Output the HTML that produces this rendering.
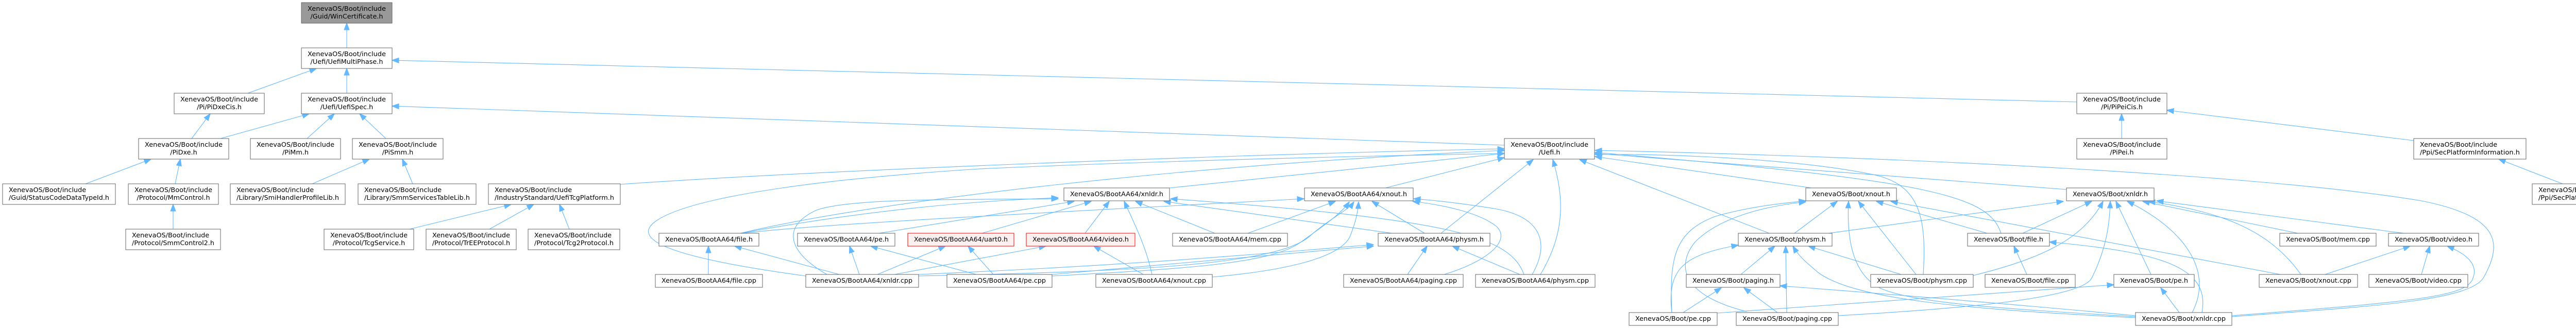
<!DOCTYPE html>
<html><head><meta charset="utf-8"><style>
html,body{margin:0;padding:0;background:#fff;}
svg{display:block;}
.ed path{fill:none;stroke:#63b8ff;stroke-width:1.1;marker-end:url(#ah);}
.nd rect{fill:#fff;stroke:#666;stroke-width:1;}
.nd rect.root{fill:#999;}
.nd rect.red{fill:#fff0f0;stroke:#ff0000;}
.nd text{font-family:"DejaVu Sans","Liberation Sans",sans-serif;font-size:12.8px;fill:#000;}
.nd text.c{text-anchor:middle;}
</style></head><body>
<svg xmlns="http://www.w3.org/2000/svg" width="5146" height="637" viewBox="0 0 5146 637">
<defs><marker id="ah" viewBox="0 0 14 11" refX="13.5" refY="5.5" markerWidth="14" markerHeight="11" markerUnits="userSpaceOnUse" orient="auto"><path d="M0,0.3 L14,5.5 L0,10.7 Z" fill="#63b8ff" stroke="#63b8ff" stroke-width="1"/></marker></defs>
<rect x="0" y="0" width="5146" height="637" fill="#fff"/>
<g class="ed">
<path d="M673,93 L673,45"/>
<path d="M481,181 L614,133"/>
<path d="M673,181 L673,133"/>
<path d="M4031,198 L761,117"/>
<path d="M372,269 L408,221"/>
<path d="M428,269 L600,221"/>
<path d="M596,269 L649,221"/>
<path d="M749,269 L698,221"/>
<path d="M2920,282 L761,206"/>
<path d="M166,357 L293,309"/>
<path d="M340,357 L350,309"/>
<path d="M336,445 L336,397"/>
<path d="M606,357 L717,309"/>
<path d="M801,357 L781,309"/>
<path d="M795,445 L992,397"/>
<path d="M950,445 L1036,397"/>
<path d="M1105,445 L1086,397"/>
<path d="M1204,358 C1600,330 2400,300 2920,289"/>
<path d="M4118,269 L4118,221"/>
<path d="M4685,273 L4206,214"/>
<path d="M4974,357 L4850,309"/>
<path d="M1375,533 L1375,478"/>
<path d="M1629,533 L1426,478"/>
<path d="M1668,533 L1649,478"/>
<path d="M1895,533 L1690,478"/>
<path d="M1703,533 L1835,478"/>
<path d="M1928,533 L1879,478"/>
<path d="M1736,533 L2030,478"/>
<path d="M2219,533 L2123,478"/>
<path d="M1564,536 C1300,500 1220,465 1275,428 C1340,385 1560,350 1900,328 C2300,310 2700,302 2920,298"/>
<path d="M1605,533 C1530,490 1515,440 1585,408 C1650,385 1850,388 2054,386"/>
<path d="M1437,453 C1700,390 2300,320 2920,292"/>
<path d="M1437,453 C1700,405 1900,390 2054,384"/>
<path d="M1440,453 C1600,435 1900,420 2531,386"/>
<path d="M1706,453 L2085,391"/>
<path d="M1906,453 L2118,391"/>
<path d="M2106,453 L2153,391"/>
<path d="M2236,533 C2225,480 2200,430 2182,391"/>
<path d="M2358,453 L2204,391"/>
<path d="M2702,453 L2259,391"/>
<path d="M2958,533 C2930,455 2800,425 2272,386"/>
<path d="M2270,365 L2920,298"/>
<path d="M2689,365 L2920,306"/>
<path d="M2422,453 L2592,391"/>
<path d="M2042,536 C2300,522 2470,512 2525,470 C2570,438 2603,415 2619,392"/>
<path d="M1783,536 C2200,527 2480,515 2543,458 C2580,425 2615,410 2628,392"/>
<path d="M2353,538 C2500,525 2600,500 2620,460 C2632,430 2636,410 2637,392"/>
<path d="M2765,453 L2663,391"/>
<path d="M2803,533 C2880,510 2935,470 2905,440 C2870,412 2800,398 2742,391"/>
<path d="M2974,533 C3010,470 2990,420 2900,405 C2850,397 2800,390 2744,386"/>
<path d="M2950,533 L2819,478"/>
<path d="M2732,533 L2770,478"/>
<path d="M2042,533 C2300,510 2500,494 2666,478"/>
<path d="M1783,533 C2200,515 2450,493 2666,475"/>
<path d="M2797,453 L2976,310"/>
<path d="M2990,533 C3040,450 3035,380 3014,310"/>
<path d="M3516,365 L3096,304"/>
<path d="M3434,453 L3066,310"/>
<path d="M4011,368 L3096,298"/>
<path d="M3884,453 C3860,380 3750,350 3096,296"/>
<path d="M4332,615 C4600,595 4790,585 4820,540 C4860,470 4850,420 4700,390 C4400,340 3700,305 3096,292"/>
<path d="M3733,533 C3740,420 3725,360 3640,340 C3500,310 3250,298 3096,300"/>
<path d="M3245,607 C3240,500 3250,450 3330,420 C3400,400 3460,395 3505,390"/>
<path d="M3390,605 C3270,575 3250,520 3290,470 C3340,420 3430,400 3505,392"/>
<path d="M3483,453 L3566,391"/>
<path d="M4145,615 C3900,600 3720,590 3650,560 C3590,530 3585,450 3588,391"/>
<path d="M3719,533 L3607,391"/>
<path d="M4426,533 L3670,391"/>
<path d="M3857,453 L3642,391"/>
<path d="M3549,453 L4005,391"/>
<path d="M3926,453 L4060,391"/>
<path d="M3830,535 C3950,505 4040,470 4082,391"/>
<path d="M3568,613 C3800,600 4040,580 4060,540 C4090,480 4095,430 4096,391"/>
<path d="M4175,533 L4107,391"/>
<path d="M4255,607 C4300,520 4230,440 4129,391"/>
<path d="M4460,453 L4159,391"/>
<path d="M4466,533 C4400,440 4300,410 4170,391"/>
<path d="M4666,453 L4186,390"/>
<path d="M3934,533 L3909,478"/>
<path d="M4274,607 C4290,520 4200,490 3978,470"/>
<path d="M3333,608 L4103,553"/>
<path d="M4230,607 L4194,559"/>
<path d="M4513,533 L4678,478"/>
<path d="M4700,533 L4716,478"/>
<path d="M4332,613 C4700,585 4790,575 4800,540 C4812,510 4780,490 4750,478"/>
<path d="M3379,533 L3445,478"/>
<path d="M3468,607 L3466,478"/>
<path d="M3245,607 C3235,520 3270,495 3374,476"/>
<path d="M4145,617 C3800,600 3600,580 3530,530 C3500,505 3490,495 3480,478"/>
<path d="M3690,533 L3510,478"/>
<path d="M3267,607 L3341,559"/>
<path d="M3450,607 L3385,559"/>
<path d="M4145,613 C3900,590 3650,570 3455,555"/>
</g>
<g class="nd">
<rect class="root" x="585" y="5" width="176" height="40"/>
<text x="597" y="21" textLength="152" lengthAdjust="spacingAndGlyphs">XenevaOS/Boot/include</text>
<text class="c" x="673" y="36">/Guid/WinCertificate.h</text>

<rect x="585" y="93" width="176" height="40"/>
<text x="597" y="109" textLength="152" lengthAdjust="spacingAndGlyphs">XenevaOS/Boot/include</text>
<text class="c" x="673" y="124">/Uefi/UefiMultiPhase.h</text>

<rect x="338" y="181" width="175" height="40"/>
<text x="350" y="197" textLength="151" lengthAdjust="spacingAndGlyphs">XenevaOS/Boot/include</text>
<text class="c" x="425.5" y="212">/Pi/PiDxeCis.h</text>

<rect x="585" y="181" width="176" height="40"/>
<text x="597" y="197" textLength="152" lengthAdjust="spacingAndGlyphs">XenevaOS/Boot/include</text>
<text class="c" x="673" y="212">/Uefi/UefiSpec.h</text>

<rect x="4031" y="181" width="175" height="40"/>
<text x="4043" y="197" textLength="151" lengthAdjust="spacingAndGlyphs">XenevaOS/Boot/include</text>
<text class="c" x="4118.5" y="212">/Pi/PiPeiCis.h</text>

<rect x="269" y="269" width="175" height="40"/>
<text x="281" y="285" textLength="151" lengthAdjust="spacingAndGlyphs">XenevaOS/Boot/include</text>
<text class="c" x="356.5" y="300">/PiDxe.h</text>

<rect x="486" y="269" width="175" height="40"/>
<text x="498" y="285" textLength="151" lengthAdjust="spacingAndGlyphs">XenevaOS/Boot/include</text>
<text class="c" x="573.5" y="300">/PiMm.h</text>

<rect x="684" y="269" width="176" height="40"/>
<text x="696" y="285" textLength="152" lengthAdjust="spacingAndGlyphs">XenevaOS/Boot/include</text>
<text class="c" x="772" y="300">/PiSmm.h</text>

<rect x="2920" y="269" width="175" height="40"/>
<text x="2932" y="285" textLength="151" lengthAdjust="spacingAndGlyphs">XenevaOS/Boot/include</text>
<text class="c" x="3007.5" y="300">/Uefi.h</text>

<rect x="4031" y="269" width="175" height="40"/>
<text x="4043" y="285" textLength="151" lengthAdjust="spacingAndGlyphs">XenevaOS/Boot/include</text>
<text class="c" x="4118.5" y="300">/PiPei.h</text>

<rect x="4685" y="269" width="218" height="40"/>
<text x="4697" y="285">XenevaOS/Boot/include</text>
<text class="c" x="4794" y="300" textLength="194" lengthAdjust="spacingAndGlyphs">/Ppi/SecPlatformInformation.h</text>

<rect x="5" y="357" width="219" height="40"/>
<text x="17" y="373">XenevaOS/Boot/include</text>
<text class="c" x="114.5" y="388" textLength="195" lengthAdjust="spacingAndGlyphs">/Guid/StatusCodeDataTypeId.h</text>

<rect x="249" y="357" width="175" height="40"/>
<text x="261" y="373" textLength="151" lengthAdjust="spacingAndGlyphs">XenevaOS/Boot/include</text>
<text class="c" x="336.5" y="388">/Protocol/MmControl.h</text>

<rect x="447" y="357" width="223" height="40"/>
<text x="459" y="373">XenevaOS/Boot/include</text>
<text class="c" x="558.5" y="388" textLength="199" lengthAdjust="spacingAndGlyphs">/Library/SmiHandlerProfileLib.h</text>

<rect x="695" y="357" width="229" height="40"/>
<text x="707" y="373">XenevaOS/Boot/include</text>
<text class="c" x="809.5" y="388" textLength="205" lengthAdjust="spacingAndGlyphs">/Library/SmmServicesTableLib.h</text>

<rect x="948" y="357" width="256" height="40"/>
<text x="960" y="373">XenevaOS/Boot/include</text>
<text class="c" x="1076" y="388" textLength="232" lengthAdjust="spacingAndGlyphs">/IndustryStandard/UefiTcgPlatform.h</text>

<rect x="4915" y="357" width="226" height="40"/>
<text x="4927" y="373">XenevaOS/Boot/include</text>
<text class="c" x="5028" y="388" textLength="202" lengthAdjust="spacingAndGlyphs">/Ppi/SecPlatformInformation2.h</text>

<rect x="244" y="445" width="184" height="40"/>
<text x="256" y="461">XenevaOS/Boot/include</text>
<text class="c" x="336" y="476" textLength="160" lengthAdjust="spacingAndGlyphs">/Protocol/SmmControl2.h</text>

<rect x="629" y="445" width="174" height="40"/>
<text x="641" y="461" textLength="150" lengthAdjust="spacingAndGlyphs">XenevaOS/Boot/include</text>
<text class="c" x="716" y="476">/Protocol/TcgService.h</text>

<rect x="827" y="445" width="175" height="40"/>
<text x="839" y="461" textLength="151" lengthAdjust="spacingAndGlyphs">XenevaOS/Boot/include</text>
<text class="c" x="914.5" y="476">/Protocol/TrEEProtocol.h</text>

<rect x="1025" y="445" width="178" height="40"/>
<text x="1037" y="461">XenevaOS/Boot/include</text>
<text class="c" x="1114" y="476" textLength="154" lengthAdjust="spacingAndGlyphs">/Protocol/Tcg2Protocol.h</text>

<rect x="2065" y="365" width="205" height="25"/>
<text class="c" x="2167.5" y="381" textLength="181" lengthAdjust="spacingAndGlyphs">XenevaOS/BootAA64/xnldr.h</text>
<rect x="2532" y="365" width="211" height="25"/>
<text class="c" x="2637.5" y="381" textLength="187" lengthAdjust="spacingAndGlyphs">XenevaOS/BootAA64/xnout.h</text>
<rect x="3505" y="365" width="176" height="25"/>
<text class="c" x="3593" y="381" textLength="152" lengthAdjust="spacingAndGlyphs">XenevaOS/Boot/xnout.h</text>
<rect x="4011" y="365" width="170" height="25"/>
<text class="c" x="4096" y="381" textLength="146" lengthAdjust="spacingAndGlyphs">XenevaOS/Boot/xnldr.h</text>

<rect x="1279" y="453" width="194" height="25"/>
<text class="c" x="1376" y="469" textLength="170" lengthAdjust="spacingAndGlyphs">XenevaOS/BootAA64/file.h</text>
<rect x="1548" y="453" width="189" height="25"/>
<text class="c" x="1642.5" y="469" textLength="165" lengthAdjust="spacingAndGlyphs">XenevaOS/BootAA64/pe.h</text>
<rect class="red" x="1762" y="453" width="206" height="25"/>
<text class="c" x="1865" y="469" textLength="182" lengthAdjust="spacingAndGlyphs">XenevaOS/BootAA64/uart0.h</text>
<rect class="red" x="1992" y="453" width="211" height="25"/>
<text class="c" x="2097.5" y="469" textLength="187" lengthAdjust="spacingAndGlyphs">XenevaOS/BootAA64/video.h</text>
<rect x="2276" y="453" width="223" height="25"/>
<text class="c" x="2387.5" y="469" textLength="199" lengthAdjust="spacingAndGlyphs">XenevaOS/BootAA64/mem.cpp</text>
<rect x="2675" y="453" width="217" height="25"/>
<text class="c" x="2783.5" y="469" textLength="193" lengthAdjust="spacingAndGlyphs">XenevaOS/BootAA64/physm.h</text>
<rect x="3374" y="453" width="182" height="25"/>
<text class="c" x="3465" y="469" textLength="158" lengthAdjust="spacingAndGlyphs">XenevaOS/Boot/physm.h</text>
<rect x="3819" y="453" width="159" height="25"/>
<text class="c" x="3898.5" y="469" textLength="135" lengthAdjust="spacingAndGlyphs">XenevaOS/Boot/file.h</text>
<rect x="4425" y="453" width="187" height="25"/>
<text class="c" x="4518.5" y="469" textLength="163" lengthAdjust="spacingAndGlyphs">XenevaOS/Boot/mem.cpp</text>
<rect x="4636" y="453" width="175" height="25"/>
<text class="c" x="4723.5" y="469" textLength="151" lengthAdjust="spacingAndGlyphs">XenevaOS/Boot/video.h</text>

<rect x="1272" y="533" width="208" height="25"/>
<text class="c" x="1376" y="549" textLength="184" lengthAdjust="spacingAndGlyphs">XenevaOS/BootAA64/file.cpp</text>
<rect x="1564" y="533" width="219" height="25"/>
<text class="c" x="1673.5" y="549" textLength="195" lengthAdjust="spacingAndGlyphs">XenevaOS/BootAA64/xnldr.cpp</text>
<rect x="1838" y="533" width="204" height="25"/>
<text class="c" x="1940" y="549" textLength="180" lengthAdjust="spacingAndGlyphs">XenevaOS/BootAA64/pe.cpp</text>
<rect x="2127" y="533" width="226" height="25"/>
<text class="c" x="2240" y="549" textLength="202" lengthAdjust="spacingAndGlyphs">XenevaOS/BootAA64/xnout.cpp</text>
<rect x="2608" y="533" width="232" height="25"/>
<text class="c" x="2724" y="549" textLength="208" lengthAdjust="spacingAndGlyphs">XenevaOS/BootAA64/paging.cpp</text>
<rect x="2864" y="533" width="232" height="25"/>
<text class="c" x="2980" y="549" textLength="208" lengthAdjust="spacingAndGlyphs">XenevaOS/BootAA64/physm.cpp</text>
<rect x="3273" y="533" width="182" height="25"/>
<text class="c" x="3364" y="549" textLength="158" lengthAdjust="spacingAndGlyphs">XenevaOS/Boot/paging.h</text>
<rect x="3631" y="533" width="199" height="25"/>
<text class="c" x="3730.5" y="549" textLength="175" lengthAdjust="spacingAndGlyphs">XenevaOS/Boot/physm.cpp</text>
<rect x="3853" y="533" width="175" height="25"/>
<text class="c" x="3940.5" y="549" textLength="151" lengthAdjust="spacingAndGlyphs">XenevaOS/Boot/file.cpp</text>
<rect x="4103" y="533" width="156" height="25"/>
<text class="c" x="4181" y="549" textLength="132" lengthAdjust="spacingAndGlyphs">XenevaOS/Boot/pe.h</text>
<rect x="4385" y="533" width="191" height="25"/>
<text class="c" x="4480.5" y="549" textLength="167" lengthAdjust="spacingAndGlyphs">XenevaOS/Boot/xnout.cpp</text>
<rect x="4598" y="533" width="192" height="25"/>
<text class="c" x="4694" y="549" textLength="168" lengthAdjust="spacingAndGlyphs">XenevaOS/Boot/video.cpp</text>

<rect x="3162" y="607" width="171" height="25"/>
<text class="c" x="3247.5" y="623" textLength="147" lengthAdjust="spacingAndGlyphs">XenevaOS/Boot/pe.cpp</text>
<rect x="3370" y="607" width="198" height="25"/>
<text class="c" x="3469" y="623" textLength="174" lengthAdjust="spacingAndGlyphs">XenevaOS/Boot/paging.cpp</text>
<rect x="4145" y="607" width="187" height="25"/>
<text class="c" x="4238.5" y="623" textLength="163" lengthAdjust="spacingAndGlyphs">XenevaOS/Boot/xnldr.cpp</text>
</g>
</svg>
</body></html>
